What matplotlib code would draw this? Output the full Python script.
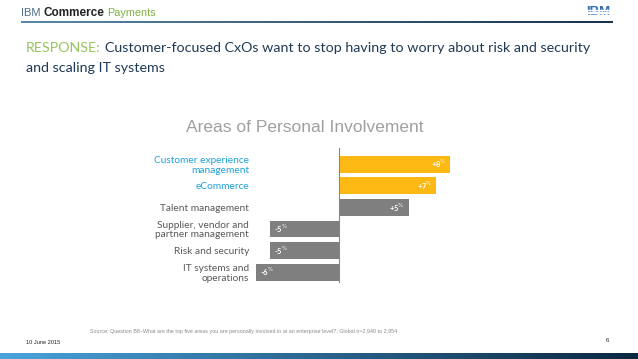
#!/usr/bin/env python

import numpy as np
import matplotlib.pyplot as plt
from matplotlib.colors import LinearSegmentedColormap
from matplotlib.patches import Rectangle

# chart data
areas = ['Customer experience\nmanagement', 'eCommerce', 'Talent management',
         'Supplier, vendor and\npartner management', 'Risk and security',
         'IT systems and\noperations']
change = [8, 7, 5, -5, -5, -6]
highlight = [True, True, False, False, False, False]

title = 'Areas of Personal Involvement'
headline_key = 'RESPONSE:'
headline_1 = 'Customer-focused CxOs want to stop having to worry about risk and security'
headline_2 = 'and scaling IT systems'
source = ('Source: Question B8\u2013What are the top five areas you are personally '
          'involved in at an enterprise level?; Global n=2,940 to 2,954')
date = '10 June 2015'
page = '6'

W, H = 638, 359
YELLOW = '#FDB913'
GREY = '#7f7f7f'
BLUE_LBL = '#1DA1DA'
GREY_LBL = '#595959'
NAVY = '#1F3A56'
GREEN = '#96C45E'

fig = plt.figure(figsize=(W / 100, H / 100), dpi=100)


def fx(x):
    return x / W


def fy(y):
    return 1 - y / H


def gradient_bar(x0, y0, x1, y1, c0, c1):
    ax = fig.add_axes([fx(x0), fy(y1), fx(x1 - x0), (y1 - y0) / H])
    cmap = LinearSegmentedColormap.from_list('g', [c0, c1])
    ax.imshow(np.linspace(0, 1, 256)[None, :], aspect='auto', cmap=cmap)
    ax.axis('off')


# header
fig.text(fx(21), fy(13), 'IBM', fontsize=8, color='#4d6d88',
         family='Liberation Sans', va='center')
fig.text(fx(43), fy(13), 'Commerce', fontsize=8.5, color='#222222',
         family='Liberation Sans', weight='bold', va='center')
fig.text(fx(107), fy(13), 'Payments', fontsize=7.8, color='#7fb241',
         family='Liberation Sans', va='center')
gradient_bar(21, 21, 613, 23.5, '#5b88a8', '#17324d')

# IBM logo, striped
fig.text(fx(598), fy(12.3), 'IBM', fontsize=9.5, color='#2f6db0',
         family='Liberation Sans', weight='bold', ha='center', va='center')
for i in range(3):
    fig.patches.append(Rectangle((fx(582), fy(10.2 + i * 2.6)), fx(32),
                                 0.45 / H, transform=fig.transFigure,
                                 color='white', zorder=5))

# headline
key = fig.text(fx(26), fy(48), headline_key, fontsize=10.3, color=GREEN,
               family='Lato', va='center')
r = fig.canvas.get_renderer()
bb = key.get_window_extent(r)
fig.text(bb.x1 / W + fx(4), fy(48), headline_1, fontsize=10.3, color=NAVY,
         family='Lato', va='center')
fig.text(fx(26), fy(68), headline_2, fontsize=10.3, color=NAVY,
         family='Lato', va='center')

# chart title
fig.text(fx(305), fy(127), title, fontsize=12.5, color='#a0a0a0',
         family='Liberation Sans', ha='center', va='center')

# bar chart
px_unit = 13.9
left_px, right_px = 252, 470
ax = fig.add_axes([fx(left_px), fy(283), fx(right_px - left_px), 135 / H])
y = np.arange(len(areas))
colors = [YELLOW if h else GREY for h in highlight]
ax.barh(y, change, height=0.77, color=colors)
ax.set_xlim(-(339 - left_px) / px_unit, (right_px - 339) / px_unit)
ax.set_ylim(5.5, -0.75)
ax.axvline(0, color='#888888', lw=0.8)
for s in ax.spines.values():
    s.set_visible(False)
ax.set_xticks([])
ax.set_yticks(y)
ax.set_yticklabels(areas, family='Lato', fontsize=7.3, linespacing=1.05)
ax.tick_params(axis='y', length=0, pad=2)
for lbl, h in zip(ax.get_yticklabels(), highlight):
    lbl.set_color(BLUE_LBL if h else GREY_LBL)

for yi, v in zip(y, change):
    off = 4 / px_unit
    if v > 0:
        ax.text(v - off, yi, '+%d$^{\\%%}$' % v, ha='right', va='center',
                color='white', fontsize=5.5, family='Lato', weight='bold')
    else:
        ax.text(v + off, yi, '%d$^{\\%%}$' % v, ha='left', va='center',
                color='white', fontsize=5.5, family='Lato', weight='bold')

# footer
fig.text(fx(90), fy(331), source, fontsize=3.85, color='#8a8a8a',
         family='Liberation Sans', va='center')
fig.text(fx(26), fy(342.5), date, fontsize=4.1, color='#222222',
         family='Liberation Sans', va='center')
fig.text(fx(607), fy(341), page, fontsize=4.3, color='#222222',
         family='Liberation Sans', va='center', ha='center')
gradient_bar(0, 353, 638, 359, '#4aa3dc', '#0b2740')

fig.savefig('out.png', dpi=100)
